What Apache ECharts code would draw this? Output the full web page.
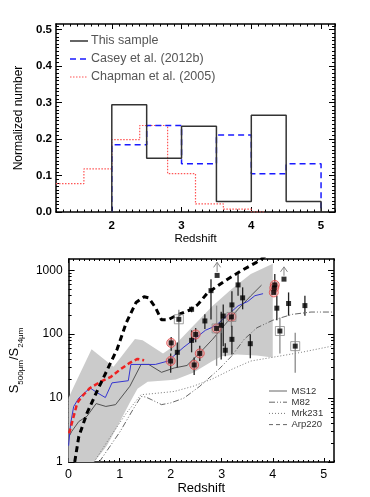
<!DOCTYPE html>
<html><head><meta charset="utf-8">
<script src="https://cdn.jsdelivr.net/npm/echarts@6/dist/echarts.min.js"></script>
<style>html,body{margin:0;padding:0;background:#fff}#c{width:370px;height:497px}</style>
</head><body><div id="c"></div>
<script>
// ---------- Top panel: redshift histograms ----------
const sampleEdges = [2.0, 2.5, 3.0, 3.5, 4.0, 4.5, 5.0];
const sampleFrac  = [0.294, 0.147, 0.235, 0.029, 0.265, 0.029];
const caseyEdges  = [2.0, 2.5, 3.0, 3.5, 4.0, 4.5, 5.0];
const caseyFrac   = [0.184, 0.237, 0.132, 0.211, 0.105, 0.132];
const chapmanEdges = [1.2, 1.6, 2.0, 2.4, 2.8, 3.2, 3.6, 4.0, 4.2];
const chapmanFrac  = [0.078, 0.118, 0.198, 0.237, 0.105, 0.022, 0.008, 0.0];
const topXTicks = [2, 3, 4, 5];
const topYTicks = [0, 0.1, 0.2, 0.3, 0.4, 0.5];
const topLegend = ['This sample', 'Casey et al. (2012b)', 'Chapman et al. (2005)'];

// ---------- Bottom panel: S500/S24 vs redshift ----------
const bandUpper = [[0,10],[0.1,15],[0.45,58],[0.88,31],[1.3,84],[1.45,80],[1.85,50],[2.07,66],[2.44,134],[2.82,277],[3.19,505],[3.57,870],[4.0,1260]];
const bandLower = [[0,1],[0.5,1],[0.75,1.8],[1.0,4.2],[1.2,8.5],[1.35,14],[1.55,18],[1.95,19],[2.1,19.5],[2.44,25],[2.82,38],[3.0,45],[3.3,48],[3.69,46.5],[4.0,43]];
const arp220Track = [[0.12,1],[0.2,2.5],[0.36,5.8],[0.57,13.5],[0.76,28],[0.95,58],[1.13,151],[1.32,312],[1.48,385],[1.57,370],[1.7,262],[1.82,168],[1.95,168],[2.13,200],[2.38,240],[2.53,290],[2.72,440],[3.06,680],[3.37,970],[3.68,1330],[3.85,1650]];
const redDashed = [[0.01,2.8],[0.1,5.2],[0.17,8.4],[0.26,10.6],[0.42,14.4],[0.64,18.3],[0.82,21.2],[1.01,28],[1.2,35.6],[1.35,41],[1.48,39]];
const blueTrack = [[0,1.8],[0.04,4],[0.1,7.4],[0.2,10],[0.42,14.4],[0.57,12],[0.72,10.2],[0.85,17.3],[1.17,18.7],[1.22,33.6],[1.5,33.6],[1.7,33.6],[1.95,38],[2.05,45],[2.26,63],[2.5,88],[2.68,115],[2.88,135],[3.13,204],[3.32,277],[3.51,325],[3.65,400],[3.81,430]];
const ms12 = [[0.02,2.6],[0.06,3],[0.2,4.3],[0.36,5.2],[0.54,8.2],[0.73,7.4],[0.92,7.9],[1.2,15.3],[1.42,33.6],[1.57,33.6],[1.82,25.3],[2.07,29.6],[2.32,32.4],[2.57,51],[2.82,83],[3.07,143],[3.32,245],[3.57,398],[3.78,585]];
const m82 = [[0.6,1],[1.01,3],[1.26,6.6],[1.42,10.6],[1.51,10.4],[1.63,9.4],[1.82,7.9],[2.0,8.4],[2.26,10],[2.57,15.3],[2.94,28],[3.19,45],[3.44,83],[3.69,126],[4.0,165],[4.38,204],[4.75,222],[5.2,222]];
const mrk231 = [[0.5,1],[0.82,2.5],[1.13,5.8],[1.42,11.3],[1.63,11.7],[2.07,12.7],[2.44,15.3],[2.82,20],[3.19,28],[3.57,38],[4.0,43.5],[4.56,52],[5.2,66]];
// sources: [redshift, ratio, errLow, errHigh] (null = no bar)
const sources = [
  [2.01,73,55,90],[2.00,38,25,50],[2.13,52,30,74],[2.16,171,55,240],[2.41,80,52,115],
  [2.41,245,220,270],[2.49,99,75,125],[2.46,33,23,43],[2.57,50,38,66],[2.67,161,120,205],
  [2.79,480,170,720],[2.91,830,null,null],[2.90,123,32,280],[2.99,138,40,225],[3.03,192,65,290],
  [3.07,56,45,72],[3.19,186,130,260],[3.20,287,160,470],[3.20,83,48,135],[3.32,590,400,870],
  [3.41,370,245,540],[3.56,71,42,100],[4.04,590,420,870],[4.03,530,null,null],[4.02,450,null,null],
  [4.08,255,165,400],[4.22,726,null,null],[4.14,112,50,180],[4.31,302,195,450],[4.63,280,195,400],
  [4.44,65,25,105]
];
const redCircled = [0,1,6,7,8,12,16,22,23,24];
const boxed = [3,12,16,27,30];
const lowerLimitArrows = [[2.91,940,1330],[4.22,820,1130]];
const botXTicks = [0,1,2,3,4,5];
const botYTicks = [1,10,100,1000];
const botLegend = ['MS12','M82','Mrk231','Arp220'];

const FF = '"Liberation Sans", Arial, Helvetica, sans-serif';

function stepPath(edges, vals, closeLeft) {
  const out = [];
  if (closeLeft) out.push([edges[0], 0]);
  for (let i = 0; i < vals.length; i++) { out.push([edges[i], vals[i]]); out.push([edges[i+1], vals[i]]); }
  if (closeLeft) out.push([edges[edges.length-1], 0]);
  return out;
}
function range(a, b, step) { const r=[]; for (let v=a; v<=b+1e-9; v+=step) r.push(Math.round(v*1000)/1000); return r; }
const topXMinor = range(1.2, 5.2, 0.1);
const topYMinor = range(0, 0.51, 0.01);
const botXMinor = range(0, 5.2, 0.1);
const botYMinor = []; [1,10,100,1000].forEach(d => { for (let k=2;k<=9;k++) if (d*k<=1500) botYMinor.push(d*k); });

const blank = {splitLine:{show:false}, axisLine:{show:false,onZero:false}, axisLabel:{show:false}, axisTick:{show:false}};
function ax(o) { return Object.assign({}, blank, o); }
const line = {show:true, onZero:false, lineStyle:{color:'#000', width:1.5}};
function ticks(vals, len) { return {show:true, inside:true, length:len, customValues: vals, lineStyle:{color:'#000', width:1}}; }

const xAxes = [
  ax({type:'value', gridIndex:0, position:'bottom', min:1.2, max:5.2, axisLine:line, axisTick:ticks(topXTicks,5),
      axisLabel:{show:true, customValues:topXTicks, margin:8, fontSize:11.5, fontWeight:'bold', color:'#000', fontFamily:FF},
      name:'Redshift', nameLocation:'middle', nameGap:20, nameTextStyle:{fontSize:11.5, color:'#000', fontFamily:FF}}),
  ax({type:'value', gridIndex:0, position:'bottom', min:1.2, max:5.2, axisTick:ticks(topXMinor,2.5)}),
  ax({type:'value', gridIndex:0, position:'top', min:1.2, max:5.2, axisLine:line, axisTick:ticks(topXTicks,5)}),
  ax({type:'value', gridIndex:0, position:'top', min:1.2, max:5.2, axisTick:ticks(topXMinor,2.5)}),
  ax({type:'value', gridIndex:1, position:'bottom', min:0, max:5.2, axisLine:line, axisTick:ticks(botXTicks,4),
      axisLabel:{show:true, customValues:botXTicks, margin:6, fontSize:12.5, color:'#000', fontFamily:FF},
      name:'Redshift', nameLocation:'middle', nameGap:19, nameTextStyle:{fontSize:13, color:'#000', fontFamily:FF}}),
  ax({type:'value', gridIndex:1, position:'bottom', min:0, max:5.2, axisTick:ticks(botXMinor,2)}),
  ax({type:'value', gridIndex:1, position:'top', min:0, max:5.2, axisLine:line, axisTick:ticks(botXTicks,4)}),
  ax({type:'value', gridIndex:1, position:'top', min:0, max:5.2, axisTick:ticks(botXMinor,2)})
];
const yAxes = [
  ax({type:'value', gridIndex:0, position:'left', min:0, max:0.515, axisLine:line, axisTick:ticks(topYTicks,6),
      axisLabel:{show:true, customValues:topYTicks, margin:4, fontSize:11.5, fontWeight:'bold', color:'#000', fontFamily:FF, formatter:v=>Number(v).toFixed(1)},
      name:'Normalized number', nameLocation:'middle', nameGap:29, nameTextStyle:{fontSize:12, color:'#000', fontFamily:FF}}),
  ax({type:'value', gridIndex:0, position:'left', min:0, max:0.515, axisTick:ticks(topYMinor,3)}),
  ax({type:'value', gridIndex:0, position:'right', min:0, max:0.515, axisLine:line, axisTick:ticks(topYTicks,6)}),
  ax({type:'value', gridIndex:0, position:'right', min:0, max:0.515, axisTick:ticks(topYMinor,3)}),
  ax({type:'log', logBase:10, gridIndex:1, position:'left', min:1, max:1500, axisLine:line, axisTick:ticks(botYTicks,6),
      axisLabel:{show:true, customValues:botYTicks, margin:6, fontSize:12, color:'#000', fontFamily:FF, formatter:v=>String(Math.round(v))},
      name:'{s|S}{sub|500μm}{s|/S}{sub|24μm}', nameLocation:'middle', nameGap:30,
      nameTextStyle:{color:'#000', fontFamily:FF, rich:{
        s:{fontSize:13, lineHeight:13, verticalAlign:'top', fontFamily:FF, color:'#000'},
        sub:{fontSize:8, lineHeight:8, padding:[9,0,0,0], verticalAlign:'top', fontFamily:FF, color:'#000'}}}}),
  ax({type:'log', logBase:10, gridIndex:1, position:'left', min:1, max:1500, axisTick:ticks(botYMinor,3)}),
  ax({type:'log', logBase:10, gridIndex:1, position:'right', min:1, max:1500, axisLine:line, axisTick:ticks(botYTicks,6)}),
  ax({type:'log', logBase:10, gridIndex:1, position:'right', min:1, max:1500, axisTick:ticks(botYMinor,3)})
];

function lineSeries(data, xi, yi, color, width, type, z) {
  return {type:'line', xAxisIndex:xi, yAxisIndex:yi, data:data, symbol:'none', showSymbol:false, silent:true, z:z||2,
          lineStyle:{color:color, width:width, type:type}, clip:true};
}

const series = [
  lineSeries(stepPath(chapmanEdges, chapmanFrac, false), 0, 0, '#ff5555', 1.2, [1.5,1.5], 2),
  lineSeries(stepPath(caseyEdges, caseyFrac, true), 0, 0, '#1a1aff', 1.5, [6,4], 3),
  lineSeries(stepPath(sampleEdges, sampleFrac, true), 0, 0, '#333333', 1.5, 'solid', 4),
  // gray band
  {type:'custom', xAxisIndex:4, yAxisIndex:4, data:[[1,1]], silent:true, z:1, clip:true,
   renderItem:(p, api) => {
     const pts = bandUpper.map(q => api.coord(q)).concat(bandLower.slice().reverse().map(q => api.coord(q)));
     return {type:'polygon', shape:{points:pts}, style:{fill:'#cbcbcb'}};
   }},
  lineSeries(mrk231, 4, 4, '#777777', 1, [1,2], 2),
  lineSeries(m82, 4, 4, '#555555', 0.9, [6,2,1,2,1,2], 2),
  lineSeries(ms12, 4, 4, '#444444', 0.9, 'solid', 2),
  lineSeries(blueTrack, 4, 4, '#3535d0', 1, 'solid', 2),
  lineSeries(redDashed, 4, 4, '#ee2222', 2.5, [5,3], 3),
  lineSeries(arp220Track, 4, 4, '#000000', 3, [6,4], 3),
  // error bars
  {type:'custom', xAxisIndex:4, yAxisIndex:4, silent:true, z:4, clip:true,
   data: sources.map((s,i) => [s[0], s[2], s[3], boxed.indexOf(i) >= 0 ? 1 : 0]).filter(d => d[1] !== null),
   encode:{x:0, y:[1,2]},
   renderItem:(p, api) => {
     const a = api.coord([api.value(0), api.value(1)]), b = api.coord([api.value(0), api.value(2)]);
     return {type:'line', shape:{x1:a[0], y1:a[1], x2:b[0], y2:b[1]}, style:{stroke: api.value(3) ? '#8a8a8a' : '#222', lineWidth:1.3}};
   }},
  {type:'scatter', xAxisIndex:4, yAxisIndex:4, silent:true, z:5, symbol:'circle', symbolSize:9,
   data: redCircled.map(i => [sources[i][0], sources[i][1]]),
   itemStyle:{color:'rgba(240,130,130,0.55)', borderColor:'#e04848', borderWidth:1}},
  {type:'scatter', xAxisIndex:4, yAxisIndex:4, silent:true, z:5, symbol:'rect', symbolSize:9,
   data: boxed.map(i => [sources[i][0], sources[i][1]]),
   itemStyle:{color:'rgba(0,0,0,0)', borderColor:'#8a8a8a', borderWidth:1}},
  {type:'scatter', xAxisIndex:4, yAxisIndex:4, silent:true, z:6, symbol:'rect', symbolSize:5,
   data: sources.map(s => [s[0], s[1]]), itemStyle:{color:'#000'}},
  {type:'custom', xAxisIndex:4, yAxisIndex:4, silent:true, z:6, clip:false,
   data: lowerLimitArrows, encode:{x:0, y:[1,2]},
   renderItem:(p, api) => {
     const a = api.coord([api.value(0), api.value(1)]), b = api.coord([api.value(0), api.value(2)]);
     return {type:'group', children:[
       {type:'line', shape:{x1:a[0], y1:a[1], x2:b[0], y2:b[1]}, style:{stroke:'#888', lineWidth:1}},
       {type:'polyline', shape:{points:[[b[0]-3.5,b[1]+5],[b[0],b[1]],[b[0]+3.5,b[1]+5]]}, style:{stroke:'#888', lineWidth:1, fill:null}}
     ]};
   }}
];

// legends (drawn as graphic: short line sample + text)
const graphic = [];
const topLegStyles = [['#333333',1.5,null],['#1a1aff',1.5,[6,4]],['#ff5555',1.2,[1.5,1.5]]];
topLegend.forEach((t,i) => {
  const y = 41 + i*18;
  graphic.push({type:'line', shape:{x1:70, y1:y, x2:88, y2:y}, style:{stroke:topLegStyles[i][0], lineWidth:topLegStyles[i][1], lineDash:topLegStyles[i][2]}});
  graphic.push({type:'text', x:91, y:y, style:{text:t, fill:'#555', font:'12.5px '+FF, textVerticalAlign:'middle'}});
});
const botLegStyles = [['#555',0.9,null],['#555',0.9,[6,2,1,2,1,2]],['#777',1,[1,2]],['#555',0.9,[4,3]]];
botLegend.forEach((t,i) => {
  const y = 391 + i*11.2;
  graphic.push({type:'line', shape:{x1:269, y1:y, x2:287, y2:y}, style:{stroke:botLegStyles[i][0], lineWidth:botLegStyles[i][1], lineDash:botLegStyles[i][2]}});
  graphic.push({type:'text', x:291.5, y:y, style:{text:t, fill:'#333', font:'9.5px '+FF, textVerticalAlign:'middle'}});
});

const chart = echarts.init(document.getElementById('c'), null, {renderer:'canvas'});
chart.setOption({
  animation:false,
  backgroundColor:'#fff',
  grid:[{left:56, top:24, width:279, height:188}, {left:56, top:259, width:278, height:203}],
  xAxis:xAxes, yAxis:yAxes, series:series, graphic:graphic
});
</script></body></html>
